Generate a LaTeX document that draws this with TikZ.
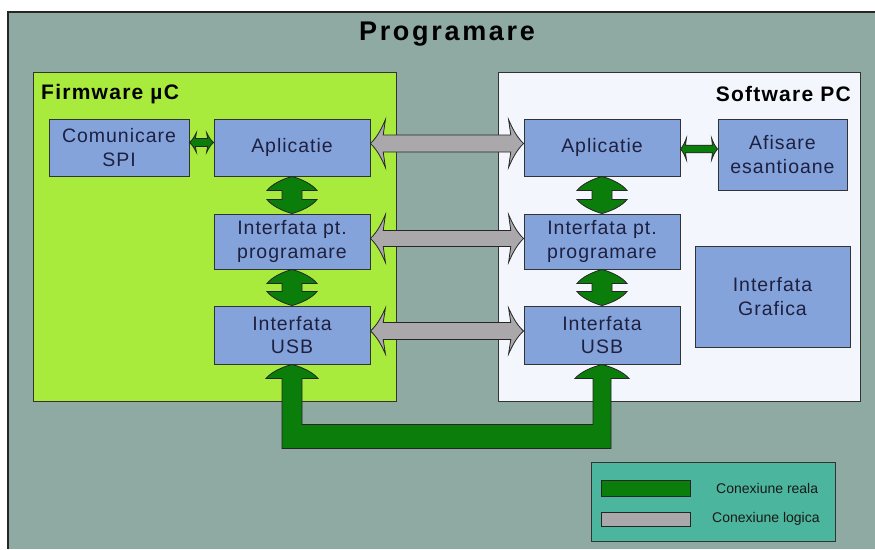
\documentclass[tikz,border=0pt]{standalone}
\usepackage{fontspec}
\setmainfont{Liberation Sans}
\newfontfamily\boxfont[LetterSpace=5]{Liberation Sans}
\newfontfamily\titlefont[LetterSpace=10]{Liberation Sans}
\newfontfamily\hdrfont[LetterSpace=6]{Liberation Sans}
\usetikzlibrary{calc}
\definecolor{outerbg}{HTML}{8EAAA2}
\definecolor{fwgreen}{HTML}{A8EB3C}
\definecolor{pcwhite}{HTML}{F3F6FC}
\definecolor{boxblue}{HTML}{84A3DB}
\definecolor{dgreen}{HTML}{0A7D0A}
\definecolor{arrgrey}{HTML}{ABA8AC}
\definecolor{legteal}{HTML}{4BB59D}
\definecolor{txtnavy}{HTML}{1E2040}
\newcommand{\harr}[6]{%
 \path[#1] let \p1=#2, \p2=#3 in
 (\x1,\y1)
 .. controls (\x1+0.5*#6,\y1+0.3*#5) and (\x1+0.75*#6,\y1+0.65*#5) .. (\x1+#6,\y1+#5)
 -- (\x1+0.85*#6,\y1+#4) -- (\x2-0.85*#6,\y2+#4) -- (\x2-#6,\y2+#5)
 .. controls (\x2-0.75*#6,\y2+0.65*#5) and (\x2-0.5*#6,\y2+0.3*#5) .. (\x2,\y2)
 .. controls (\x2-0.5*#6,\y2-0.3*#5) and (\x2-0.75*#6,\y2-0.65*#5) .. (\x2-#6,\y2-#5)
 -- (\x2-0.85*#6,\y2-#4) -- (\x1+0.85*#6,\y1-#4) -- (\x1+#6,\y1-#5)
 .. controls (\x1+0.75*#6,\y1-0.65*#5) and (\x1+0.5*#6,\y1-0.3*#5) .. (\x1,\y1) -- cycle;}
\newcommand{\varr}[6]{%
 \path[#1] let \p1=#2, \p2=#3 in
 (\x1,\y1)
 .. controls (\x1+0.4*#5,\y1-0.2*#6) and (\x1+0.8*#5,\y1-0.55*#6) .. (\x1+#5,\y1-#6)
 -- (\x1+#4,\y1-#6) -- (\x2+#4,\y2+#6) -- (\x2+#5,\y2+#6)
 .. controls (\x2+0.8*#5,\y2+0.55*#6) and (\x2+0.4*#5,\y2+0.2*#6) .. (\x2,\y2)
 .. controls (\x2-0.4*#5,\y2+0.2*#6) and (\x2-0.8*#5,\y2+0.55*#6) .. (\x2-#5,\y2+#6)
 -- (\x2-#4,\y2+#6) -- (\x1-#4,\y1-#6) -- (\x1-#5,\y1-#6)
 .. controls (\x1-0.8*#5,\y1-0.55*#6) and (\x1-0.4*#5,\y1-0.2*#6) .. (\x1,\y1) -- cycle;}
\tikzset{
 container/.style={draw=black!80, line width=1pt, inner sep=0pt},
 blockbox/.style={draw=black!80, line width=0.9pt, fill=boxblue, inner sep=0pt, align=center,
   text=txtnavy, font={\boxfont\fontsize{19.5}{23.5}\selectfont}},
 greenarr/.style={fill=dgreen, draw=black!85, line width=0.8pt, line join=miter},
 greyarr/.style={fill=arrgrey, draw=black!85, line width=0.8pt, line join=miter},
 hdr/.style={inner sep=0pt, text=black, font={\hdrfont\bfseries\fontsize{21}{25}\selectfont}},
 legtext/.style={inner sep=0pt, anchor=west, text=black!90, font={\fontsize{14}{16}\selectfont}}
}
\begin{document}
\begin{tikzpicture}[x=1pt,y=-1pt]
\useasboundingbox (0,0) rectangle (875,549);
\fill[white] (0,0) rectangle (875,549);
\fill[outerbg] (8,12) rectangle (875,549);
\draw[black!85, line width=1.5pt] (8,549) -- (8,12) -- (875,12);
\node[inner sep=0pt, font={\titlefont\bfseries\fontsize{27}{32}\selectfont}] (title) at (447,34) {Programare};

\node[container, fill=fwgreen, minimum width=363, minimum height=329] (fw) at (214.5,236.5) {};
\node[container, fill=pcwhite, minimum width=362, minimum height=329] (pc) at (679,236.5) {};
\node[hdr, anchor=west] (fwlabel) at (41,94) {Firmware µC};
\node[hdr, anchor=east] (pclabel) at (851,94) {Software PC};

\node[blockbox, minimum width=140, minimum height=57] (spi) at (119,147.5) {Comunicare\\SPI};
\node[blockbox, minimum width=156, minimum height=57] (appL) at (292,147.5) {Aplicatie};
\node[blockbox, minimum width=156, minimum height=55] (progL) at (292,241.5) {Interfata pt.\\programare};
\node[blockbox, minimum width=156, minimum height=58] (usbL) at (292,335) {Interfata\\USB};

\node[blockbox, minimum width=156, minimum height=57] (appR) at (602,147.5) {Aplicatie};
\node[blockbox, minimum width=129, minimum height=71] (afis) at (782.5,154.5) {Afisare\\esantioane};
\node[blockbox, minimum width=156, minimum height=55] (progR) at (602,241.5) {Interfata pt.\\programare};
\node[blockbox, minimum width=156, minimum height=58] (usbR) at (602,335) {Interfata\\USB};
\node[blockbox, minimum width=155, minimum height=101] (graf) at (772.5,296.5) {Interfata\\Grafica};

% logical connections
\harr{greyarr}{($(appL.east)+(0,-4)$)}{($(appR.west)+(0,-4)$)}{8.5pt}{24pt}{15pt}
\harr{greyarr}{($(progL.east)+(0,-3)$)}{($(progR.west)+(0,-3)$)}{8pt}{24pt}{15pt}
\harr{greyarr}{($(usbL.east)+(0,-4)$)}{($(usbR.west)+(0,-4)$)}{8.5pt}{23pt}{15pt}

% real connections
\harr{greenarr}{($(spi.east)+(0,-5)$)}{($(appL.west)+(0,-5)$)}{4pt}{10pt}{7pt}
\harr{greenarr}{($(appR.east)+(0,1.5)$)}{($(afis.west)+(0,-5.5)$)}{3.8pt}{11pt}{6pt}
\varr{greenarr}{(appL.south)}{(progL.north)}{10pt}{25pt}{14pt}
\varr{greenarr}{(progL.south)}{(usbL.north)}{10pt}{25pt}{14pt}
\varr{greenarr}{(appR.south)}{(progR.north)}{10pt}{25pt}{14pt}
\varr{greenarr}{(progR.south)}{(usbR.north)}{10pt}{25pt}{14pt}

\path[greenarr] let \p1=(usbL.south), \p2=(usbR.south) in
 (\x1,\y1) .. controls (\x1+10.4pt,\y1-2.8pt) and (\x1+20.8pt,\y1-7.7pt) .. (\x1+26pt,\y1-14pt)
 -- (\x1+10pt,\y1-14pt) -- (\x1+10pt,\y1-60pt) -- (\x2-9pt,\y1-60pt) -- (\x2-9pt,\y2-14pt)
 -- (\x2-27pt,\y2-14pt) .. controls (\x2-21.6pt,\y2-7.7pt) and (\x2-10.8pt,\y2-2.8pt) .. (\x2,\y2)
 .. controls (\x2+10.8pt,\y2-2.8pt) and (\x2+21.6pt,\y2-7.7pt) .. (\x2+27pt,\y2-14pt)
 -- (\x2+9pt,\y2-14pt) -- (\x2+9pt,\y2-84pt) -- (\x1-10pt,\y1-84pt) -- (\x1-10pt,\y1-14pt)
 -- (\x1-26pt,\y1-14pt) .. controls (\x1-20.8pt,\y1-7.7pt) and (\x1-10.4pt,\y1-2.8pt) .. (\x1,\y1) -- cycle;

% legend
\node[container, fill=legteal, minimum width=244, minimum height=79] (legend) at (713,501.5) {};
\node[draw=black!85, line width=0.9pt, fill=dgreen, minimum width=89, minimum height=16, inner sep=0pt] (swreal) at (645.5,488) {};
\node[draw=black!85, line width=0.9pt, fill=arrgrey, minimum width=89, minimum height=14, inner sep=0pt] (swlog) at (645.5,519) {};
\node[legtext] (txreal) at (716,488) {Conexiune reala};
\node[legtext] (txlog) at (712,519) {Conexiune logica};
\end{tikzpicture}
\end{document}
